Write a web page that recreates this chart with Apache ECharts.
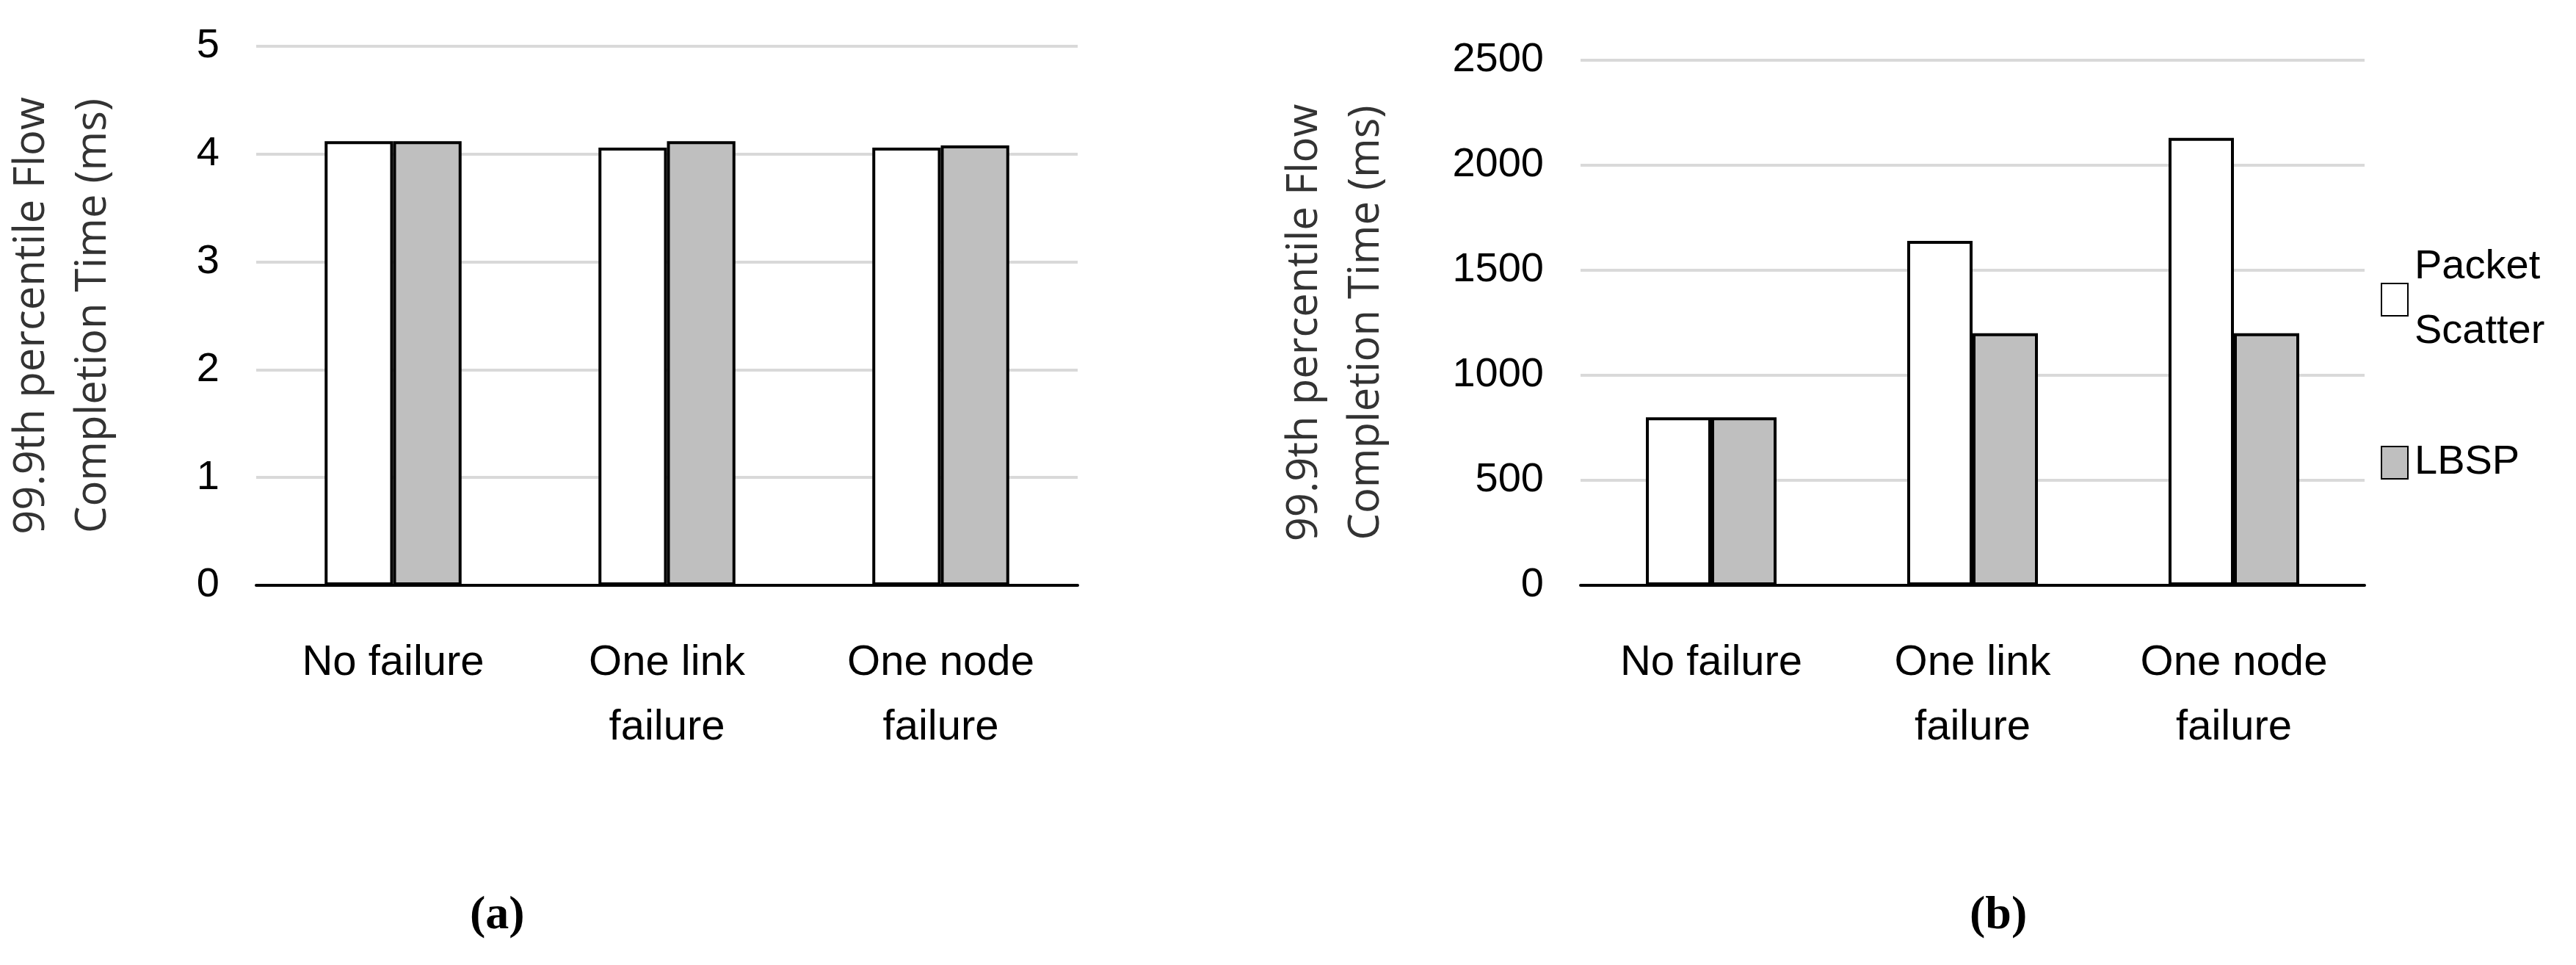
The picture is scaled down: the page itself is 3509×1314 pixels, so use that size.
<head>
    <meta charset="utf-8">
    <title>Flow completion time</title>
    <script src="https://cdn.jsdelivr.net/npm/echarts@6/dist/echarts.min.js"></script>
</head>
<body style="margin:0;background:#fff">
    <div id="main" style="width:3509px;height:1314px;"></div>
    <script type="text/javascript">
        const categories = ['No failure', 'One link\nfailure', 'One node\nfailure']
        const seriesNames = ['Packet Scatter', 'LBSP']
        const scatterA = [4.12, 4.06, 4.06]
        const lbspA = [4.12, 4.12, 4.08]
        const scatterB = [800, 1640, 2130]
        const lbspB = [800, 1200, 1200]

        const yName = '99.9th percentile Flow\nCompletion Time (ms)'
        const font = 'Open Sans'
        const tickFont = 'Liberation Sans'

        var myChart = echarts.init(document.getElementById('main'))

        function xAx(i) {
            return {
                type: 'category', gridIndex: i, data: categories,
                axisLine: { lineStyle: { color: '#000', width: 4 } },
                axisTick: { show: false },
                axisLabel: { fontSize: 58, color: '#000', fontFamily: tickFont, margin: 62, lineHeight: 88 }
            }
        }
        function yAx(i, max, interval, gap) {
            return {
                type: 'value', gridIndex: i, min: 0, max, interval,
                name: yName, nameLocation: 'middle', nameGap: gap, nameRotate: 90,
                nameTextStyle: { fontSize: 58, color: '#333', fontFamily: font, lineHeight: 84 },
                axisLine: { show: false }, axisTick: { show: false },
                axisLabel: { fontSize: 56, color: '#000', fontFamily: tickFont, margin: 50, formatter: v => String(v) },
                splitLine: { lineStyle: { color: '#d9d9d9', width: 4 } }
            }
        }
        const bar = (name, data, x, color) => ({
            name, type: 'bar', data, xAxisIndex: x, yAxisIndex: x,
            barCategoryGap: '50%', barGap: '0%',
            itemStyle: { color, borderColor: '#000', borderWidth: 4 }
        })

        option = {
            animation: false,
            grid: [
                { left: 317, right: 3509 - 1468, top: 63, bottom: 1314 - 797 },
                { left: 2153, right: 3509 - 3221, top: 82, bottom: 1314 - 797 }
            ],
            legend: {
                data: seriesNames, orient: 'vertical', left: 3238, top: 315,
                itemWidth: 36, itemHeight: 44, itemGap: 90,
                textStyle: { fontSize: 56, color: '#000', fontFamily: tickFont, lineHeight: 88, padding: [0, 0, 0, 4] },
                formatter: n => n.replace(' ', '\n'),
                icon: 'rect'
            },
            xAxis: [xAx(0), xAx(1)],
            yAxis: [yAx(0, 5, 1, 180), yAx(1, 2500, 500, 250)],
            series: [
                bar(seriesNames[0], scatterA, 0, '#fff'),
                bar(seriesNames[1], lbspA, 0, '#bfbfbf'),
                bar(seriesNames[0], scatterB, 1, '#fff'),
                bar(seriesNames[1], lbspB, 1, '#bfbfbf')
            ],
            graphic: [
                { type: 'text', left: 640, top: 1215, style: { text: '(a)', font: 'bold 64px "Liberation Serif"', fill: '#000' } },
                { type: 'text', left: 2683, top: 1215, style: { text: '(b)', font: 'bold 64px "Liberation Serif"', fill: '#000' } }
            ]
        }
        myChart.setOption(option)
    </script>
</body>
